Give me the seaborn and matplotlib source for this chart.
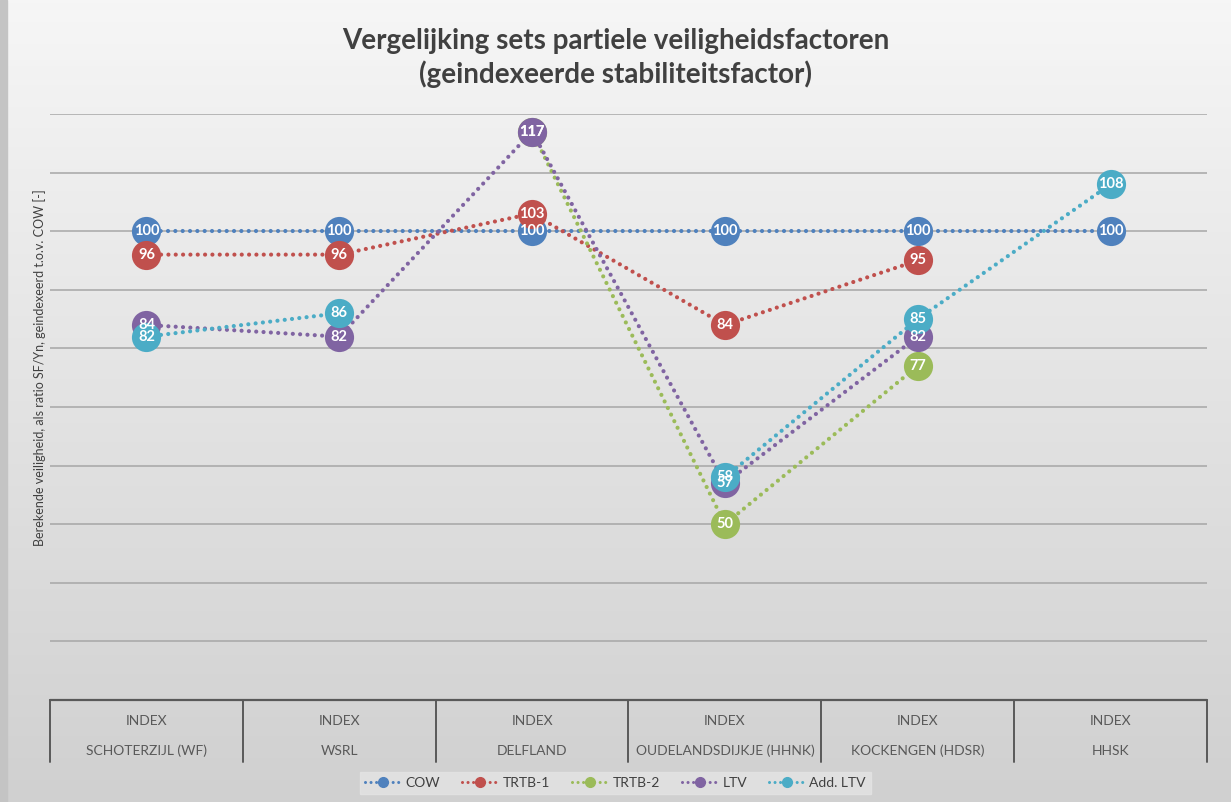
import numpy as np
import pandas as pd
import matplotlib
matplotlib.use("Agg")
import matplotlib.pyplot as plt
from matplotlib.lines import Line2D
import seaborn as sns

sns.set_theme(style="white")
plt.rcParams['font.family'] = ['Lato', 'DejaVu Sans']

# data
locations = ["SCHOTERZIJL (WF)", "WSRL", "DELFLAND", "OUDELANDSDIJKJE (HHNK)",
             "KOCKENGEN (HDSR)", "HHSK"]
group_label = "INDEX"
series_names = ["COW", "TRTB-1", "TRTB-2", "LTV", "Add. LTV"]
cow = [100, 100, 100, 100, 100, 100]
trtb1 = [96, 96, 103, 84, 95, np.nan]
trtb2 = [np.nan, np.nan, 117, 50, 77, np.nan]
ltv = [84, 82, 117, 57, 82, np.nan]
add_ltv = [82, 86, np.nan, 58, 85, 108]
colors = ["#4F81BD", "#C0504D", "#9BBB59", "#8064A2", "#4BACC6"]

title = "Vergelijking sets partiele veiligheidsfactoren\n(geindexeerde stabiliteitsfactor)"
ylabel = "Berekende veiligheid, als ratio SF/Yn, geindexeerd t.o.v. COW [-]"

values = [cow, trtb1, trtb2, ltv, add_ltv]
rows = []
for name, vals in zip(series_names, values):
    seg = 0
    for i, v in enumerate(vals):
        if np.isnan(v):
            seg += 1
            continue
        rows.append({"serie": name, "pos": i, "waarde": v, "seg": seg})
df = pd.DataFrame(rows)

fig = plt.figure(figsize=(12.31, 8.02), dpi=100)

# grey gradient background
bg = fig.add_axes([0, 0, 1, 1], zorder=-10)
grad = np.linspace(0, 1, 256).reshape(-1, 1)
bg.imshow(grad, aspect="auto", cmap=matplotlib.colors.LinearSegmentedColormap.from_list(
    "g", ["#f6f6f6", "#d0d0d0"]), extent=[0, 1, 0, 1], origin="upper")
bg.axvspan(0, 0.006, color="#c4c4c4")
bg.set_axis_off()

ax = fig.add_axes([0.0406, 0.1272, 0.9399, 0.7307])
ax.patch.set_alpha(0)

for name, col in zip(series_names, colors):
    sub = df[df["serie"] == name]
    for _, part in sub.groupby("seg"):
        sns.lineplot(data=part, x="pos", y="waarde", ax=ax, color=col, lw=3.0,
                     linestyle=(0, (0.01, 1.75)), dash_capstyle="round",
                     marker="o", markersize=21, markeredgewidth=0, legend=False)

# data labels on top
for name, vals in zip(series_names, values):
    for i, v in enumerate(vals):
        if not np.isnan(v):
            ax.text(i, v, f"{v:.0f}", ha="center", va="center", color="white",
                    fontsize=10.5, fontweight="bold", zorder=10)

ax.set_xlim(-0.5, len(locations) - 0.5)
ax.set_ylim(20, 120)
ax.set_yticks(np.arange(30, 121, 10))
ax.set_yticklabels([])
ax.set_xticks([])
ax.set_xlabel("")
ax.set_ylabel("")
ax.tick_params(left=False, bottom=False)
ax.grid(axis="y", color="#a6a6a6", lw=1.1)
ax.set_axisbelow(True)
for s in ax.spines.values():
    s.set_visible(False)
ax.axhline(20, color="#595959", lw=1.6, clip_on=False)

# category table under the axis
trans = matplotlib.transforms.blended_transform_factory(ax.transData, ax.transAxes)
for b in np.arange(-0.5, len(locations), 1.0):
    ax.plot([b, b], [0, -0.106], transform=trans, color="#595959", lw=1.4, clip_on=False)
for i, loc in enumerate(locations):
    ax.text(i, -0.036, group_label, transform=trans, ha="center", va="center",
            fontsize=10, color="#595959")
    ax.text(i, -0.087, loc, transform=trans, ha="center", va="center",
            fontsize=10, color="#595959")

fig.text(0.5, 0.928, title, ha="center", va="center", fontsize=20,
         fontweight="bold", color="#404040", linespacing=1.3)
fig.text(0.0325, 0.541, ylabel, rotation=90, ha="center", va="center",
         fontsize=9, color="#404040")

handles = [Line2D([0], [0], color=c, lw=2.2, linestyle=(0, (0.01, 1.8)),
                  dash_capstyle="round", marker="o", markersize=7) for c in colors]
leg = fig.legend(handles, series_names, loc="center", bbox_to_anchor=(0.5, 0.0235),
                 ncol=5, frameon=True, fontsize=10, handlelength=2.6,
                 handletextpad=0.3, columnspacing=1.6, borderpad=0.35, fancybox=False)
leg.get_frame().set_facecolor("#e4e4e4")
leg.get_frame().set_edgecolor("#e4e4e4")
for t in leg.get_texts():
    t.set_color("#404040")

fig.savefig("out.png", dpi=100)
